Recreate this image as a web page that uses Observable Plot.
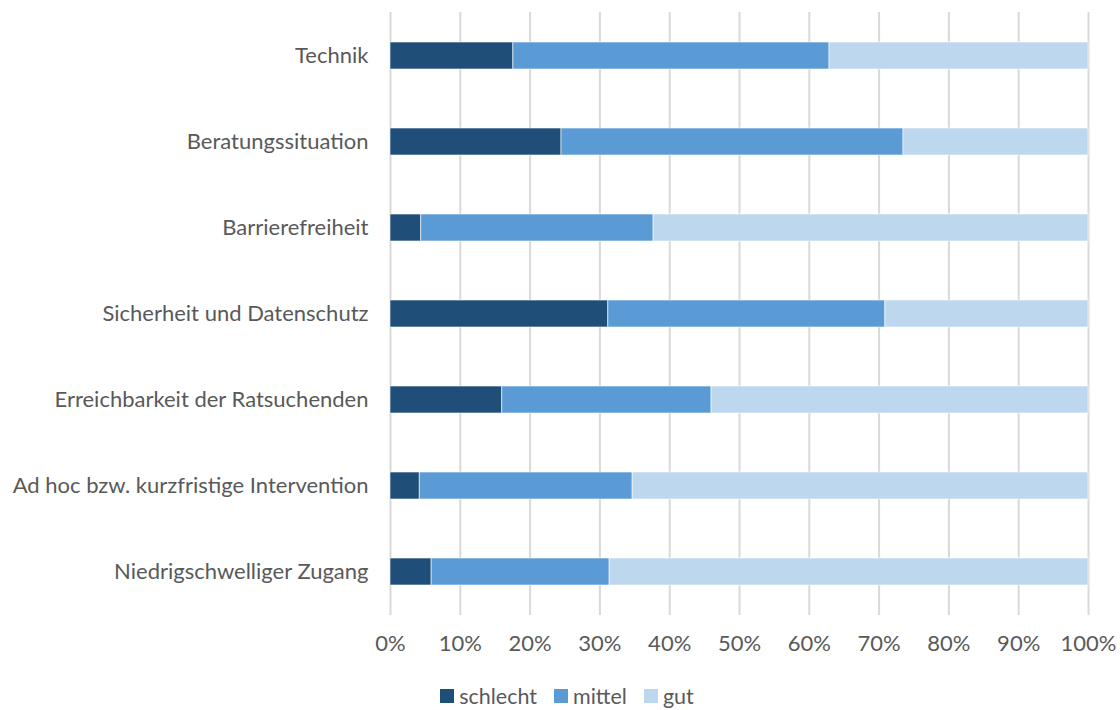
<!DOCTYPE html>
<html>
<head>
<meta charset="utf-8">
<script src="https://cdn.jsdelivr.net/npm/d3@7"></script>
<script src="https://cdn.jsdelivr.net/npm/@observablehq/plot@0.6"></script>
<style>
  body { margin: 0; background: #fff; font-family: Lato, "Open Sans", sans-serif; }
  #chart { width: 1120px; }
  .legend { display: flex; justify-content: center; gap: 17px; font-size: 21.5px; color: #595959; margin-top: 18px; margin-left: 14px; }
  .legend span.sw { display: inline-block; width: 14px; height: 14px; margin-right: 5px; }
  .legend div { display: flex; align-items: center; }
</style>
</head>
<body>
<div id="chart"></div>
<script>
const categories = [
  "Technik",
  "Beratungssituation",
  "Barrierefreiheit",
  "Sicherheit und Datenschutz",
  "Erreichbarkeit der Ratsuchenden",
  "Ad hoc bzw. kurzfristige Intervention",
  "Niedrigschwelliger Zugang"
];
const schlecht = [17.6, 24.5, 4.4, 31.2, 16.0, 4.2, 5.9];
const mittel   = [45.3, 49.0, 33.3, 39.7, 30.0, 30.5, 25.5];
const gut      = [37.1, 26.5, 62.3, 29.1, 54.0, 65.3, 68.6];
const seriesNames = ["schlecht", "mittel", "gut"];
const seriesColors = ["#1F4E79", "#5B9BD5", "#BDD7EE"];
const xTicks = [0, 0.1, 0.2, 0.3, 0.4, 0.5, 0.6, 0.7, 0.8, 0.9, 1.0];

const seriesValues = [schlecht, mittel, gut];
const rows = [];
categories.forEach((c, i) => {
  seriesNames.forEach((s, j) => {
    rows.push({category: c, series: s, value: seriesValues[j][i] / 100});
  });
});

const chart = Plot.plot({
  width: 1120,
  height: 665,
  marginLeft: 390,
  marginRight: 32,
  marginTop: 12,
  marginBottom: 50,
  style: {fontFamily: "Lato, 'Open Sans', sans-serif", fontSize: "22px", color: "#595959"},
  x: {domain: [0, 1], ticks: xTicks, tickFormat: d3.format(".0%"), label: null},
  y: {domain: categories, paddingInner: 0.69, paddingOuter: 0.344, label: null},
  color: {domain: seriesNames, range: seriesColors},
  marks: [
    Plot.ruleX(xTicks, {stroke: "#D9D9D9", strokeWidth: 2}),
    Plot.barX(rows, Plot.stackX({
      y: "category", x: "value", fill: "series", order: seriesNames,
      stroke: "#fff", strokeWidth: 1, strokeOpacity: 0.6
    })),
    Plot.axisX({ticks: xTicks, tickFormat: d3.format(".0%"), tickSize: 0, tickPadding: 20, fontSize: 22, fill: "#595959", label: null}),
    Plot.axisY({tickSize: 0, tickPadding: 22, fontSize: 22, fill: "#595959", label: null})
  ]
});
document.getElementById("chart").appendChild(chart);

const legend = document.createElement("div");
legend.className = "legend";
seriesNames.forEach((s, i) => {
  const item = document.createElement("div");
  const sw = document.createElement("span");
  sw.className = "sw";
  sw.style.background = seriesColors[i];
  item.appendChild(sw);
  item.appendChild(document.createTextNode(s));
  legend.appendChild(item);
});
document.getElementById("chart").appendChild(legend);
</script>
</body>
</html>
